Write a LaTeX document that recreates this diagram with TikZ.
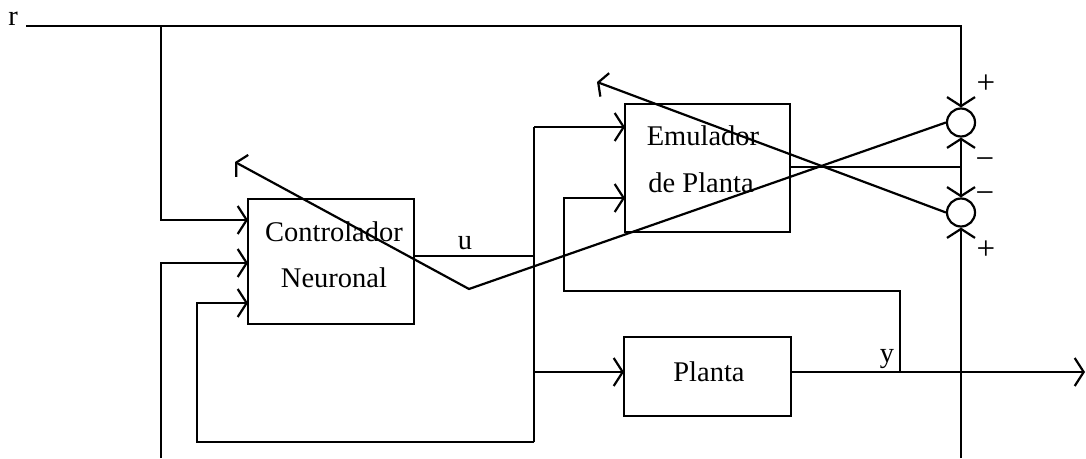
\documentclass[tikz,border=0pt]{standalone}
\usepackage{fontspec}
\setmainfont{Liberation Serif}
\usetikzlibrary{arrows.meta}
\begin{document}
\begin{tikzpicture}[x=1pt,y=-1pt,line width=2.2pt,
  box/.style={draw,rectangle,inner sep=0pt},
  lbl/.style={font=\fontsize{28.5}{34}\selectfont,inner sep=0pt},
  sgn/.style={font=\fontsize{33}{36}\selectfont,inner sep=0pt},
  sumc/.style={draw,circle,minimum size=28pt,inner sep=0pt},
  arr/.style={-{Straight Barb[length=9pt,width=28pt]}},
  arrd/.style={-{Straight Barb[length=7pt,width=25pt]}}]
\useasboundingbox (0,0) rectangle (1086,458);
% blocks
\node[box,minimum width=166pt,minimum height=125pt] (ctrl) at (331,261.5) {};
\node[lbl,anchor=base] (ctrlA) at (334,241) {Controlador};
\node[lbl,anchor=base] (ctrlB) at (334,287) {Neuronal};
\node[box,minimum width=165pt,minimum height=128pt] (emu) at (707.5,168) {};
\node[lbl,anchor=base] (emuA) at (703,145) {Emulador};
\node[lbl,anchor=base] (emuB) at (701,192) {de Planta};
\node[box,minimum width=167pt,minimum height=79pt] (plant) at (707.5,376.5) {};
\node[lbl,anchor=base] (plantA) at (709,381) {Planta};
% summing junctions
\node[sumc] (s1) at (961,122.5) {};
\node[sumc] (s2) at (961,212.5) {};
% labels
\node[lbl,anchor=base] (rl) at (13,25) {r};
\node[lbl,anchor=base] (ul) at (465,249) {u};
\node[lbl,anchor=base] (yl) at (887,362) {y};
\node[sgn] (p1) at (986,84) {+};
\node[sgn] (m1) at (985,164) {−};
\node[sgn] (m2) at (985,198) {−};
\node[sgn] (p2) at (986,250) {+};
% coordinates
\coordinate (rS) at (26,26);
\coordinate (rJ) at (161,26);
\coordinate (rC) at (961,26);
\coordinate (cIn1) at (248,220);
\coordinate (cIn2) at (248,263);
\coordinate (cIn3) at (248,303);
\coordinate (b1) at (161,458);
\coordinate (fbJ) at (534,442);
\coordinate (fbC) at (197,442);
\coordinate (uS) at (414,256);
\coordinate (uJ) at (534,256);
\coordinate (vT) at (534,127);
\coordinate (eIn1) at (625,127);
\coordinate (vP) at (534,372);
\coordinate (pIn) at (624,372);
\coordinate (pOut) at (791,372);
\coordinate (yEnd) at (1085,372);
\coordinate (yJ) at (900,372);
\coordinate (yC) at (900,291);
\coordinate (eC) at (564,291);
\coordinate (eIn2) at (625,198);
\coordinate (eOut) at (790,167);
\coordinate (eJ) at (961,167);
\coordinate (bR) at (961,458);
\coordinate (V) at (469,289);
\coordinate (a1) at (235,162);
\coordinate (a2) at (597,82);
% connectors
\draw[arr] (rS) -- (rC) -- (s1);
\draw[arr] (rJ) |- (cIn1);
\draw[arr] (b1) |- (cIn2);
\draw[arr] (fbJ) -- (fbC) |- (cIn3);
\draw (uS) -- (uJ);
\draw (vT) -- (fbJ);
\draw[arr] (vT) -- (eIn1);
\draw[arr] (vP) -- (pIn);
\draw[arr] (pOut) -- (yEnd);
\draw[arr] (yJ) -- (yC) -- (eC) |- (eIn2);
\draw (eOut) -- (eJ);
\draw[arr] (eJ) -- (s1);
\draw[arr] (eJ) -- (s2);
\draw[arr] (bR) -- (s2);
\draw[arrd] (s1.west) -- (V) -- (a1);
\draw[arrd] (s2.west) -- (a2);
\end{tikzpicture}
\end{document}
